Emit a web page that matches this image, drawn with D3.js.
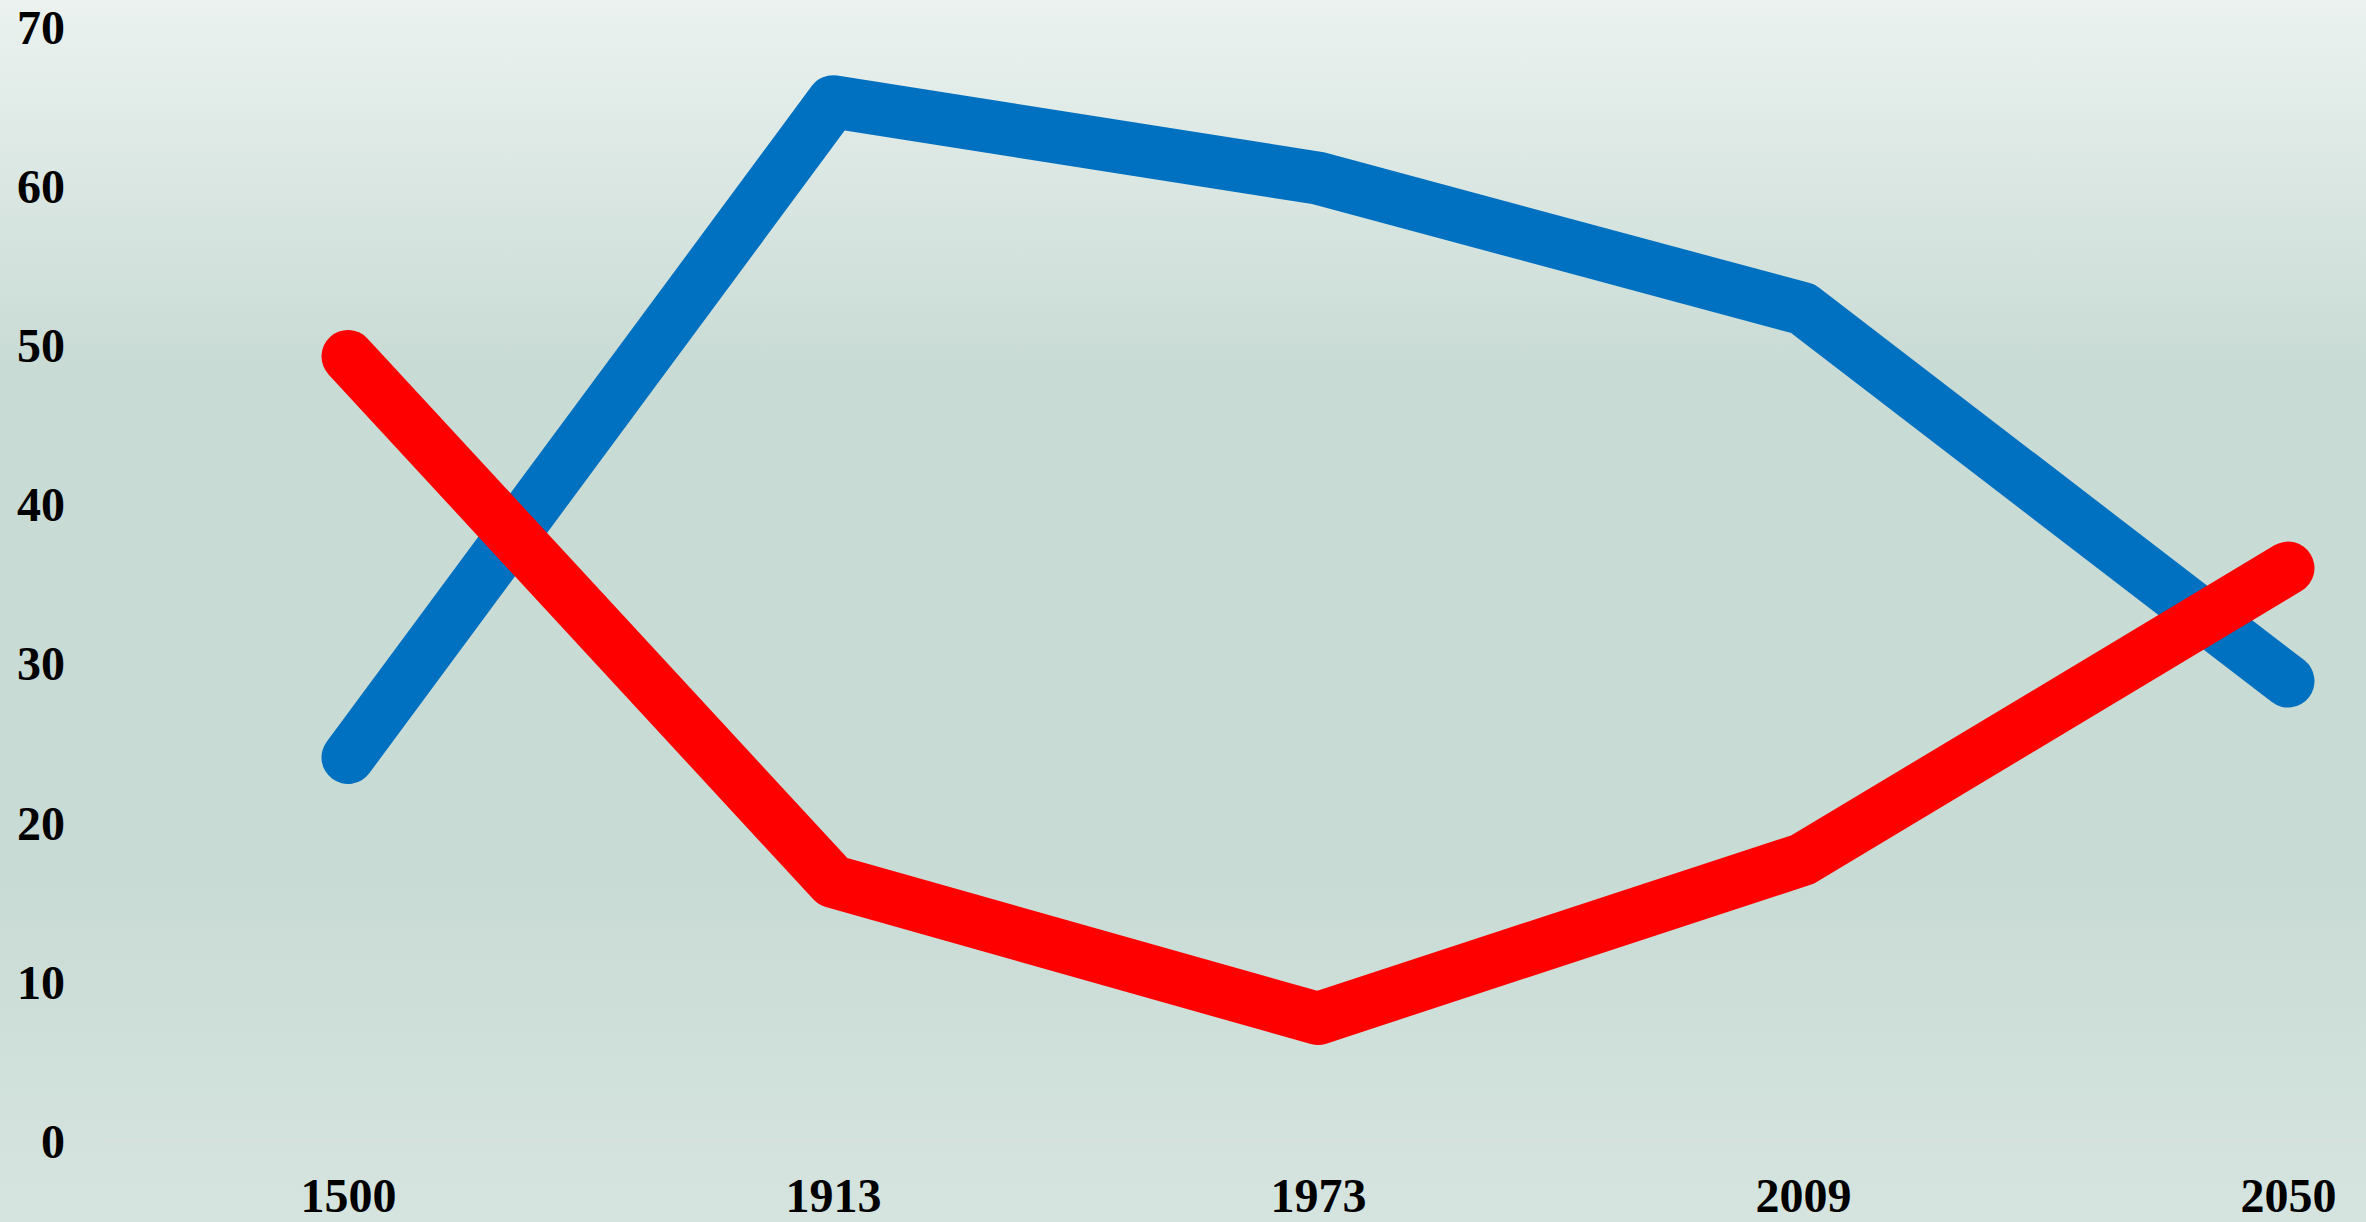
<!DOCTYPE html>
<html>
<head>
<meta charset="utf-8">
<script src="https://cdn.jsdelivr.net/npm/d3@7"></script>
<style>
  html, body { margin: 0; padding: 0; overflow: hidden; }
  svg { display: block; }
  .tick text { font-family: "Liberation Serif", "Times New Roman", serif; font-weight: bold; font-size: 48px; fill: #000; }
</style>
</head>
<body>
<svg width="2366" height="1222"></svg>
<script>
var years = ['1500', '1913', '1973', '2009', '2050'];
var blueValues = [24.1, 65.3, 60.5, 52.3, 28.9];
var redValues = [49.3, 16.3, 7.7, 17.7, 36.0];
var yTicks = [0, 10, 20, 30, 40, 50, 60, 70];

var width = 2366, height = 1222;
var svg = d3.select('svg');

// background gradient
var grad = svg.append('defs').append('linearGradient')
    .attr('id', 'bg')
    .attr('x1', 0).attr('y1', 0).attr('x2', 0).attr('y2', 1);
grad.append('stop').attr('offset', '0%').attr('stop-color', '#ebf2ef');
grad.append('stop').attr('offset', '30%').attr('stop-color', '#c9dbd5');
grad.append('stop').attr('offset', '72%').attr('stop-color', '#c9dbd5');
grad.append('stop').attr('offset', '100%').attr('stop-color', '#d6e4df');

svg.append('rect')
    .attr('width', width)
    .attr('height', height)
    .attr('fill', 'url(#bg)');

var scaleX = d3.scalePoint().domain(years).range([348, 2288]);
var scaleY = d3.scaleLinear().domain([0, 70]).range([1141, 27]);

// baseline at zero
svg.append('line')
    .attr('x1', 105).attr('x2', width)
    .attr('y1', scaleY(0)).attr('y2', scaleY(0))
    .attr('stroke', '#dadede')
    .attr('stroke-width', 2);

// y axis
var yAxis = svg.append('g')
    .attr('transform', 'translate(65,0)')
    .call(d3.axisLeft(scaleY).tickValues(yTicks).tickSize(0).tickPadding(0));
yAxis.select('.domain').remove();
yAxis.selectAll('text').attr('dy', '0.34em');

// x axis
var xAxis = svg.append('g')
    .attr('transform', 'translate(0,1212)')
    .call(d3.axisBottom(scaleX).tickSize(0).tickPadding(0));
xAxis.select('.domain').remove();
xAxis.selectAll('text').attr('dy', 0);

var line = d3.line()
    .x(function(d, i) { return scaleX(years[i]); })
    .y(function(d) { return scaleY(d); });

svg.append('path')
    .datum(blueValues)
    .attr('d', line)
    .attr('fill', 'none')
    .attr('stroke', '#0070c0')
    .attr('stroke-width', 53)
    .attr('stroke-linecap', 'round')
    .attr('stroke-linejoin', 'round');

svg.append('path')
    .datum(redValues)
    .attr('d', line)
    .attr('fill', 'none')
    .attr('stroke', '#ff0000')
    .attr('stroke-width', 53)
    .attr('stroke-linecap', 'round')
    .attr('stroke-linejoin', 'round');
</script>
</body>
</html>
